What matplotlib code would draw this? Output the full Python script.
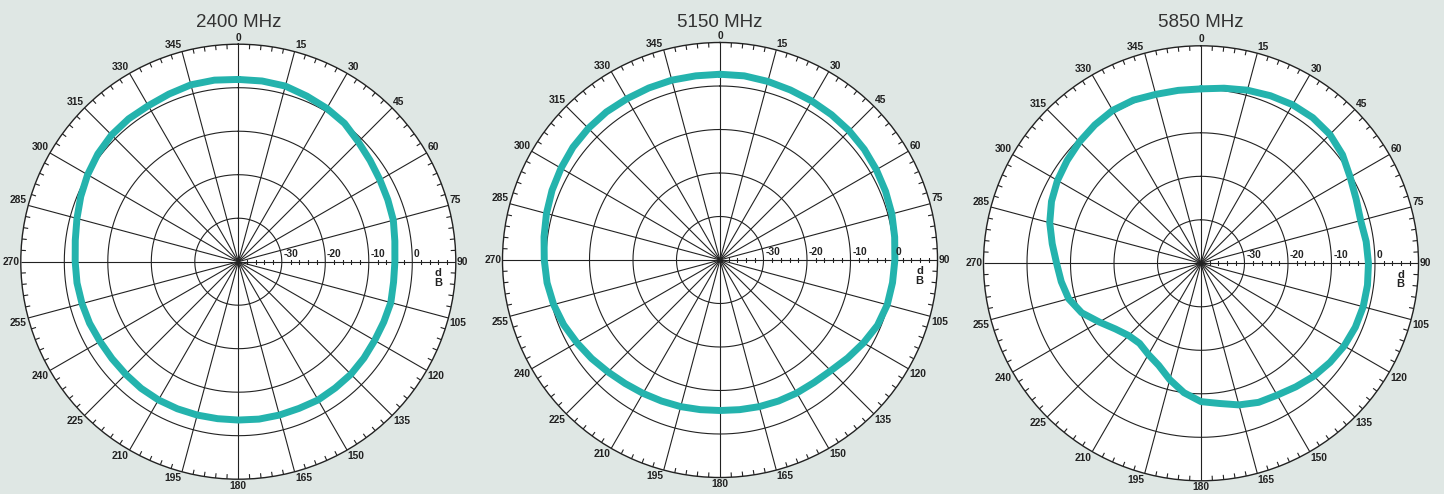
import numpy as np
import matplotlib.pyplot as plt

plt.rcParams['font.family'] = ['Liberation Sans', 'DejaVu Sans']

# measured gain in dB every 7.5 degrees, starting at 0 (clockwise from top)
angles_deg = [0, 7.5, 15, 22.5, 30, 37.5, 45, 52.5, 60, 67.5, 75, 82.5,
              90, 97.5, 105, 112.5, 120, 127.5, 135, 142.5, 150, 157.5, 165, 172.5,
              180, 187.5, 195, 202.5, 210, 217.5, 225, 232.5, 240, 247.5, 255, 262.5,
              270, 277.5, 285, 292.5, 300, 307.5, 315, 322.5, 330, 337.5, 345, 352.5]
titles = ["2400 MHz", "5150 MHz", "5850 MHz"]
gain_2400 = [1.9, 1.9, 1.8, 1.2, 0.7, 0.1, -1.0, -1.8, -2.4, -2.8, -3.1, -3.7,
             -4.0, -4.0, -3.7, -3.8, -3.8, -3.6, -3.4, -3.4, -3.3, -3.5, -3.5, -3.5,
             -3.6, -3.6, -3.5, -3.4, -3.3, -3.3, -3.4, -3.4, -3.3, -3.0, -2.8, -2.6,
             -2.5, -2.2, -1.6, -0.8, 0.0, 0.7, 1.2, 1.4, 1.4, 1.7, 2.1, 2.1]
gain_5150 = [2.7, 2.7, 2.5, 2.3, 2.2, 2.1, 2.0, 1.8, 1.5, 1.2, 0.9, 0.5,
             0.2, 0.0, -0.2, -0.8, -1.9, -3.0, -4.0, -4.5, -4.7, -4.9, -5.1, -5.3,
             -5.4, -5.3, -5.1, -4.9, -4.6, -4.2, -3.6, -2.8, -2.0, -1.1, -0.4, 0.1,
             0.4, 0.8, 1.3, 1.8, 2.2, 2.6, 2.8, 2.9, 2.8, 2.8, 2.8, 2.7]
gain_5850 = [0.1, 0.6, 1.2, 1.7, 2.1, 2.2, 1.9, 1.0, -0.4, -1.4, -2.0, -1.7,
             -1.5, -1.4, -1.4, -1.6, -2.0, -2.6, -3.3, -4.2, -5.0, -5.4, -6.3, -7.5,
             -8.2, -10.0, -12.3, -14.6, -15.8, -16.8, -16.5, -15.2, -13.0, -10.3, -8.5, -7.6,
             -6.8, -5.5, -4.0, -2.8, -1.9, -1.2, -0.5, 0.1, 0.6, 0.6, 0.2, 0.1]
gains = [gain_2400, gain_5150, gain_5850]

ring_levels = [-30, -20, -10, 0]
r_min, r_max = -40, 10

bg = '#dfe7e4'
trace_color = '#24b3ad'
ink = '#222222'

W, H = 1444, 494
R = 217.5
centers = [(238.3, 261.7), (720.0, 260.0), (1201.0, 263.3)]

fig = plt.figure(figsize=(W / 100, H / 100), dpi=100, facecolor=bg)

for (cx, cy), title, gain in zip(centers, titles, gains):
    ax = fig.add_axes([(cx - R) / W, (H - cy - R) / H, 2 * R / W, 2 * R / H],
                      projection='polar')
    ax.set_theta_zero_location('N')
    ax.set_theta_direction(-1)
    ax.set_rlim(r_min, r_max)
    ax.grid(False)
    ax.set_xticks([])
    ax.set_yticks([])
    ax.set_facecolor('white')
    ax.spines['polar'].set_color(ink)
    ax.spines['polar'].set_linewidth(1.0)

    # spokes every 15 degrees
    spokes = np.deg2rad(np.arange(0, 360, 15))
    ax.vlines(spokes, r_min, r_max, colors=ink, lw=0.8)
    # minor ticks on the outer circle every 3 degrees
    minor = np.deg2rad([a for a in range(0, 360, 3) if a % 15 != 0])
    ax.vlines(minor, r_max - 1.1, r_max, colors=ink, lw=0.8)

    # dB rings
    th = np.linspace(0, 2 * np.pi, 721)
    for lvl in ring_levels:
        ax.plot(th, np.full_like(th, lvl), color=ink, lw=0.8)

    # 2 dB ticks along the 90 degree axis
    rt = [v for v in range(-38, 10, 2) if v not in ring_levels]
    ax.plot(np.full(len(rt), np.pi / 2), rt, ls='', marker='|', ms=3.5,
            mew=0.8, color=ink)

    # pattern trace
    t = np.deg2rad(angles_deg + [angles_deg[0]])
    g = gain + [gain[0]]
    ax.plot(t, g, color=trace_color, lw=5, solid_joinstyle='round',
            solid_capstyle='round', zorder=5)

    # angle labels
    for a in range(0, 360, 15):
        if a == 0:
            ha, va = 'center', 'bottom'
        elif a == 180:
            ha, va = 'center', 'top'
        elif a == 90:
            ha, va = 'left', 'center'
        elif a == 270:
            ha, va = 'right', 'center'
        elif a < 90:
            ha, va = 'left', 'bottom'
        elif a < 180:
            ha, va = 'left', 'top'
        elif a < 270:
            ha, va = 'right', 'top'
        else:
            ha, va = 'right', 'bottom'
        ax.text(np.deg2rad(a), r_max + 0.3, str(a), ha=ha, va=va,
                fontsize=7.4, fontweight='bold', color=ink)

    # dB labels
    for lvl in ring_levels:
        ax.annotate(str(lvl), (np.pi / 2, lvl), xytext=(1.2, 2.2),
                    textcoords='offset points', ha='left', va='bottom',
                    fontsize=7.4, fontweight='bold', color=ink, zorder=6)
    ax.annotate("d\nB", (np.pi / 2, 5.9), xytext=(0, -4.5),
                textcoords='offset points', ha='center', va='top',
                multialignment='center', linespacing=0.95,
                fontsize=8, fontweight='bold', color=ink)

    fig.text(cx / W, 1 - 27 / H, title, ha='center', va='baseline',
             fontsize=13.5, color='#333333')

fig.savefig('out.png', dpi=100, facecolor=bg)
